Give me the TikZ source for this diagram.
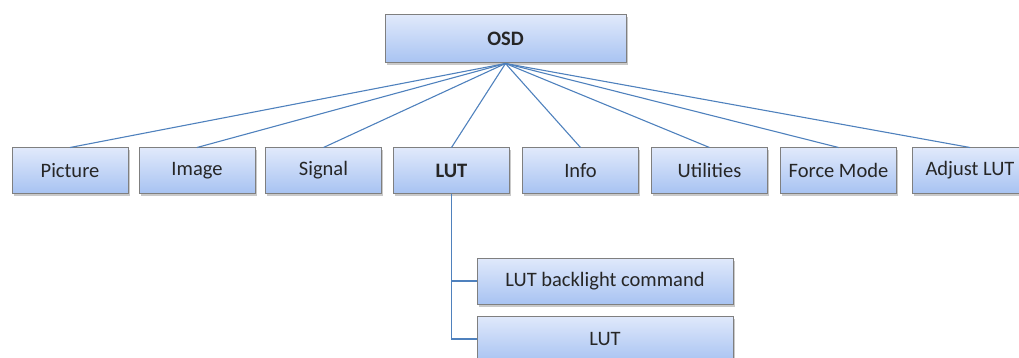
\documentclass[tikz,border=0pt]{standalone}
\usepackage{fontspec}
\setmainfont{Carlito}
\usetikzlibrary{positioning, shadows}
\definecolor{cboxtop}{HTML}{E0E9FB}
\definecolor{cboxbot}{HTML}{A8C3F2}
\definecolor{cborder}{HTML}{7F7F7F}
\definecolor{cline}{HTML}{4F81BD}
\definecolor{ctext}{HTML}{262626}
\newcommand{\menufont}{\fontsize{20.5}{23}\selectfont}
\tikzset{
  every picture/.style={font=\menufont, x=1pt, y=-1pt},
  menu/.style={draw=cborder, line width=1pt, top color=cboxtop, bottom color=cboxbot,
    minimum width=116pt, minimum height=45pt, inner sep=1pt, text=ctext,
    drop shadow={shadow xshift=1.5pt, shadow yshift=-2.5pt, opacity=0.3, fill=black!70}},
  head/.style={menu, font=\menufont\bfseries},
  link/.style={draw=cline, line width=1.1pt},
}
\begin{document}
\begin{tikzpicture}
  \useasboundingbox (0,0) rectangle (1019,358);
  \node[head, minimum width=241pt, minimum height=48pt] (osd) at (505.5,39) {OSD};
  % first level of the menu
  \node[menu] (picture) at (70,170.5) {Picture};
  \node[menu] (image) at (197,170.5) {Image};
  \node[menu] (signal) at (323.5,170.5) {Signal};
  \node[head] (lut) at (451.5,170.5) {LUT};
  \node[menu] (info) at (580.5,170.5) {Info};
  \node[menu] (utilities) at (709.5,170.5) {Utilities};
  \node[menu] (force) at (838.5,170.5) {Force Mode};
  \node[menu] (adjust) at (970,170.5) {Adjust LUT};
  \draw[link] (osd.south) -- (picture.north);
  \draw[link] (osd.south) -- (image.north);
  \draw[link] (osd.south) -- (signal.north);
  \draw[link] (osd.south) -- (lut.north);
  \draw[link] (osd.south) -- (info.north);
  \draw[link] (osd.south) -- (utilities.north);
  \draw[link] (osd.south) -- (force.north);
  \draw[link] (osd.south) -- (adjust.north);
  % entries under LUT
  \node[menu, minimum width=256pt, minimum height=46pt] (backlight) at (605,281) {LUT backlight command};
  \node[menu, minimum width=256pt, minimum height=46pt, below=11pt of backlight] (lutitem) {LUT};
  \draw[link] (lut.south) |- (backlight.west);
  \draw[link] (lut.south) |- (lutitem.west);
\end{tikzpicture}
\end{document}
